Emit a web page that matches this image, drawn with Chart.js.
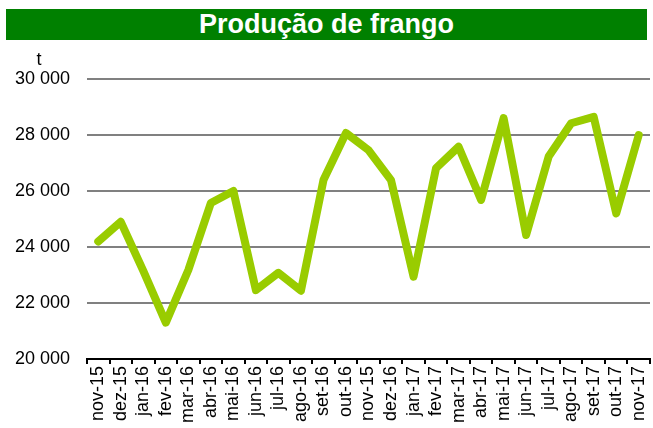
<!DOCTYPE html>
<html>
<head>
<meta charset="utf-8">
<script src="https://cdn.jsdelivr.net/npm/chart.js@4"></script>
<style>
  body { margin: 0; background: #fff; }
  #wrap { position: relative; width: 653px; height: 428px; }
  #banner {
    position: absolute; left: 6px; top: 9px; width: 641px; height: 31px;
    background: #008000; color: #fff; text-align: center;
    font: bold 27px "Liberation Sans", Arial, sans-serif; line-height: 31px;
  }
</style>
</head>
<body>
<div id="wrap">
  <div id="banner">Produção de frango</div>
  <canvas id="chart" width="653" height="428"></canvas>
</div>
<script>
const months = ['nov-15', 'dez-15', 'jan-16', 'fev-16', 'mar-16', 'abr-16', 'mai-16', 'jun-16', 'jul-16',
    'ago-16', 'set-16', 'out-16', 'nov-15', 'dez-16', 'jan-17', 'fev-17', 'mar-17', 'abr-17', 'mai-17',
    'jun-17', 'jul-17', 'ago-17', 'set-17', 'out-17', 'nov-17']
const production = [24200, 24900, 23150, 21300, 23180, 25570, 26000, 22460, 23080, 22440, 26390, 28070,
    27460, 26390, 22940, 26820, 27580, 25680, 28600, 24430, 27230, 28420, 28650, 25200, 28000]
const yTicks = [20000, 22000, 24000, 26000, 28000, 30000]

const unitLabel = {
    id: 'unitLabel',
    afterDraw(chart) {
        const ctx = chart.ctx
        ctx.save()
        ctx.font = '18px "Liberation Sans", Arial, sans-serif'
        ctx.fillStyle = '#000'
        ctx.textAlign = 'center'
        ctx.textBaseline = 'middle'
        ctx.fillText('t', 39, 60)
        ctx.restore()
    }
}

new Chart(document.getElementById('chart').getContext('2d'), {
    type: 'line',
    data: {
        labels: months,
        datasets: [{
            data: production,
            borderColor: '#99CC00',
            borderWidth: 8,
            pointRadius: 0,
            tension: 0,
            borderJoinStyle: 'round',
            borderCapStyle: 'round'
        }]
    },
    options: {
        responsive: false,
        animation: false,
        layout: { padding: { top: 79, right: 3, left: 0, bottom: 0 } },
        plugins: { legend: { display: false }, tooltip: { enabled: false } },
        scales: {
            x: {
                offset: true,
                afterFit: s => {
                    s.height = 69
                    s.paddingLeft = 0
                    s.paddingRight = 0
                },
                border: { color: '#000', width: 2 },
                grid: { offset: true, drawOnChartArea: false, drawTicks: true, tickLength: 5, color: '#000', lineWidth: 2 },
                ticks: {
                    autoSkip: false, minRotation: 90, maxRotation: 90, padding: 2,
                    color: '#000', font: { family: '"Liberation Sans", Arial, sans-serif', size: 18 }
                }
            },
            y: {
                min: 20000,
                max: 30000,
                afterFit: s => { s.width = 87 },
                afterBuildTicks: s => { s.ticks = yTicks.map(v => ({ value: v })) },
                border: { display: false },
                grid: { color: '#808080', lineWidth: 2, drawTicks: false },
                ticks: {
                    padding: 17,
                    color: '#000',
                    font: { family: '"Liberation Sans", Arial, sans-serif', size: 18 },
                    callback: v => String(v).replace(/\B(?=(\d{3})+(?!\d))/g, ' ')
                }
            }
        }
    },
    plugins: [unitLabel]
})
</script>
</body>
</html>
